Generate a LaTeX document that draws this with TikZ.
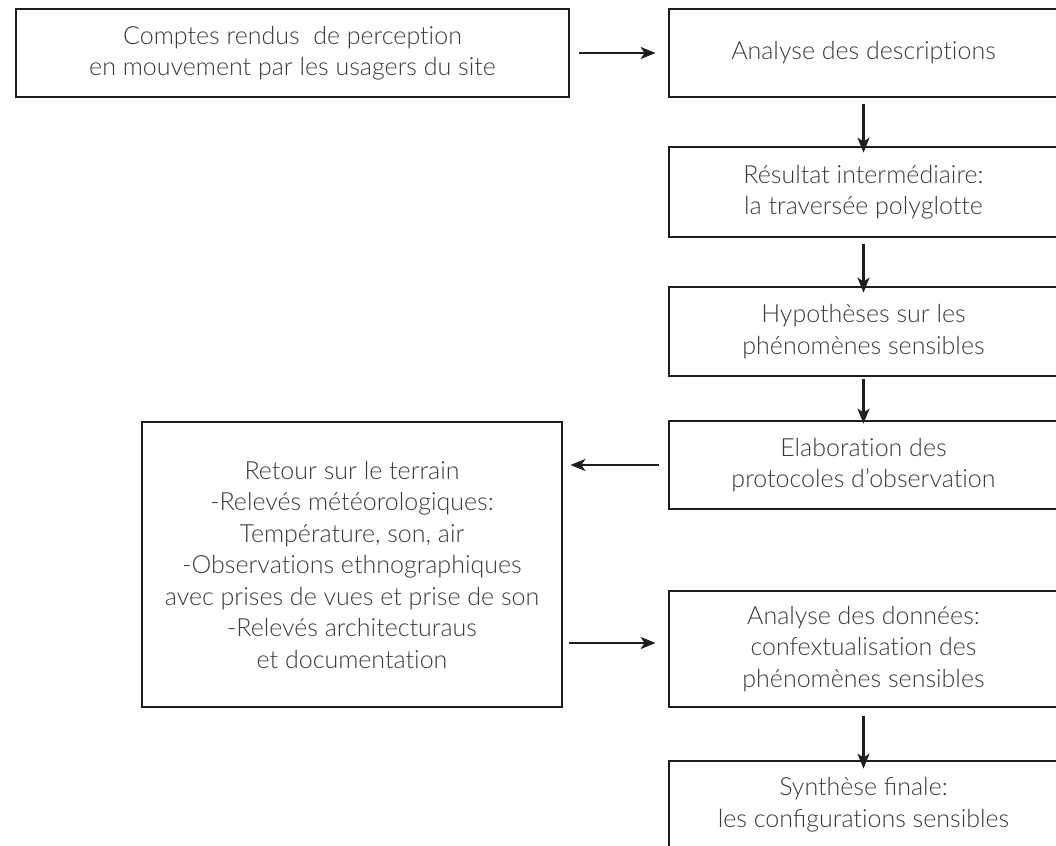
\documentclass[tikz,border=0pt]{standalone}
\usepackage{fontspec}
\setmainfont{Lato Light}[Ligatures=NoCommon]
\usetikzlibrary{arrows.meta}
\definecolor{boxline}{HTML}{1E1E1E}
\definecolor{txt}{HTML}{3A3A3A}
\begin{document}
\begin{tikzpicture}[x=1pt,y=1pt,
  box/.style={draw=boxline, line width=2.8pt, align=center, inner sep=0pt,
    text=txt, font=\fontsize{25}{31.5}\selectfont},
  link/.style={draw=boxline, line width=2.2pt,
    -{Stealth[length=15pt,width=12pt,inset=4pt]}}]
\useasboundingbox (0,0) rectangle (1056,-845);
\clip (0,0) rectangle (1056,-845);

% left-hand input and field work
\node[box, minimum width=553pt, minimum height=88pt] (b1) at (292.5,-53)
  {Comptes rendus\ \ de perception\\en mouvement par les usagers du site};
\node[box, minimum width=420pt, minimum height=285pt] (field) at (352,-564.5)
  {Retour sur le terrain\\-Relevés météorologiques:\\Température, son, air\\-Observations ethnographiques\\avec prises de vues et prise de son\\-Relevés architecturaus\\et documentation};

% main column of steps
\node[box, minimum width=389pt, minimum height=88pt] (b2) at (863.5,-53)
  {Analyse des descriptions};
\node[box, minimum width=389pt, minimum height=90pt] (b3) at (863.5,-192)
  {Résultat intermédiaire:\\la traversée polyglotte};
\node[box, minimum width=389pt, minimum height=89pt] (b4) at (863.5,-331.5)
  {Hypothèses sur les\\phénomènes sensibles};
\node[box, minimum width=389pt, minimum height=88pt] (b5) at (863.5,-465)
  {Elaboration des\\protocoles d’observation};
\node[box, minimum width=389pt, minimum height=116pt] (b6) at (863.5,-649)
  {Analyse des données:\\confextualisation des\\phénomènes sensibles};
\node[box, minimum width=389pt, minimum height=87pt] (b7) at (863.5,-804.5)
  {Synthèse ﬁnale:\\les conﬁgurations sensibles};

% connectors
\coordinate (back) at (0,-643);
\draw[link] ([xshift=9pt]b1.east) -- ([xshift=-12pt]b2.west);
\draw[link] ([yshift=-6pt]b2.south) -- ([yshift=-7pt]b3.north);
\draw[link] ([yshift=-6pt]b3.south) -- ([yshift=-7pt]b4.north);
\draw[link] ([yshift=-2pt]b4.south) -- ([yshift=-4pt]b5.north);
\draw[link] ([xshift=-9pt]b5.west) -- ([xshift=7pt]field.east |- b5.west);
\draw[link] ([xshift=6pt]field.east |- back) -- ([xshift=-12pt]b6.west |- back);
\draw[link] ([yshift=-8pt]b6.south) -- ([yshift=-9pt]b7.north);
\end{tikzpicture}
\end{document}
